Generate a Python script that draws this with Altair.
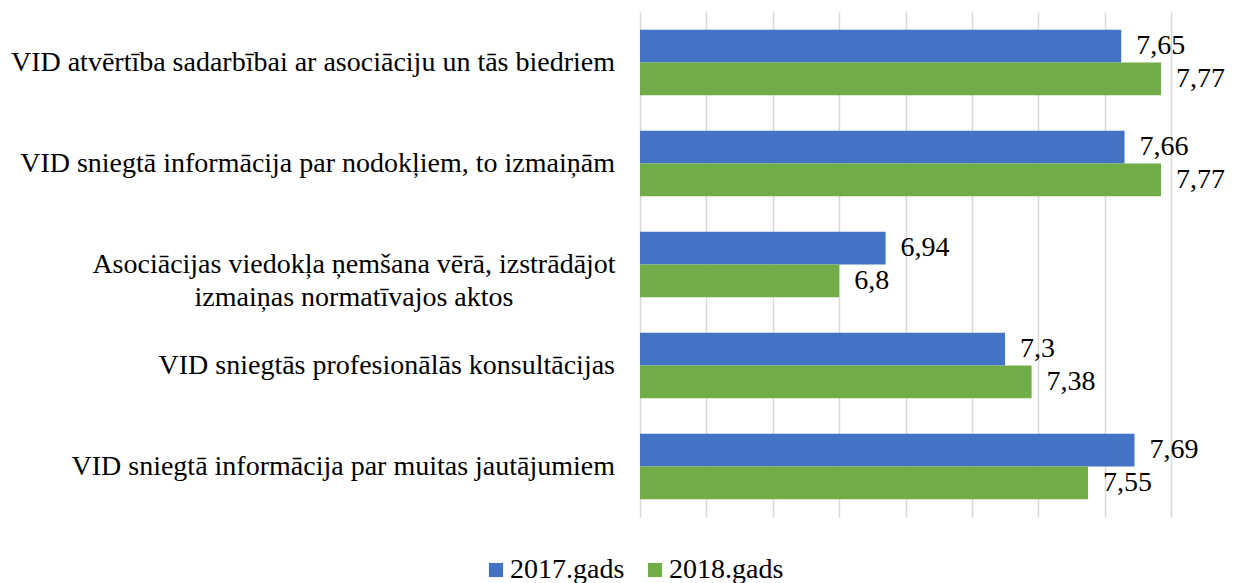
import altair as alt
import pandas as pd

categories = [
    "VID atvērtība sadarbībai ar asociāciju un tās biedriem",
    "VID sniegtā informācija par nodokļiem, to izmaiņām",
    "Asociācijas viedokļa ņemšana vērā, izstrādājot izmaiņas normatīvajos aktos",
    "VID sniegtās profesionālās konsultācijas",
    "VID sniegtā informācija par muitas jautājumiem",
]
label_lines = [
    ["VID atvērtība sadarbībai ar asociāciju un tās biedriem"],
    ["VID sniegtā informācija par nodokļiem, to izmaiņām"],
    ["Asociācijas viedokļa ņemšana vērā, izstrādājot", "izmaiņas normatīvajos aktos"],
    ["VID sniegtās profesionālās konsultācijas"],
    ["VID sniegtā informācija par muitas jautājumiem"],
]
years = ["2017.gads", "2018.gads"]
values_2017 = [7.65, 7.66, 6.94, 7.3, 7.69]
values_2018 = [7.77, 7.77, 6.8, 7.38, 7.55]
colors = ["#4472C4", "#70AD47"]
x_ticks = [6.2, 6.4, 6.6, 6.8, 7.0, 7.2, 7.4, 7.6, 7.8]

rows = []
for c, v17, v18 in zip(categories, values_2017, values_2018):
    rows.append({"cat": c, "year": years[0], "value": v17})
    rows.append({"cat": c, "year": years[1], "value": v18})
df = pd.DataFrame(rows)

lab_df = pd.DataFrame({
    "cat": categories,
    "lines": label_lines,
    "n": [len(l) for l in label_lines],
})

FONT = "Liberation Serif, Times New Roman, DejaVu Serif, serif"
FS = 28

y_enc = alt.Y("cat:N", sort=categories,
              scale=alt.Scale(domain=categories, paddingInner=0.35, paddingOuter=0.175),
              axis=None)

base = alt.Chart(df)

bars = base.mark_bar(clip=True).encode(
    x=alt.X("value:Q",
            scale=alt.Scale(domain=[6.2, 7.8], zero=False, nice=False),
            axis=alt.Axis(values=x_ticks, labels=False, ticks=False, domain=False,
                          grid=True, gridColor="#d9d9d9", gridWidth=1.5, title=None)),
    y=y_enc,
    yOffset=alt.YOffset("year:N", sort=years),
    color=alt.Color("year:N", sort=years,
                    scale=alt.Scale(domain=years, range=colors),
                    legend=alt.Legend(title=None, orient="none", direction="horizontal",
                                      legendX=-158, legendY=544,
                                      symbolType="square", symbolSize=200,
                                      symbolStrokeWidth=0,
                                      labelFont=FONT, labelFontSize=FS,
                                      labelColor="#000000", columnPadding=16,
                                      labelOffset=0)),
)

vals = base.transform_calculate(
    lbl="replace(toString(datum.value), '.', ',')"
).mark_text(align="left", baseline="middle", dx=15, font=FONT, fontSize=FS,
            color="#000000").encode(
    x="value:Q",
    y=y_enc,
    yOffset=alt.YOffset("year:N", sort=years),
    text="lbl:N",
)

single = alt.Chart(lab_df).transform_filter("datum.n == 1").mark_text(
    align="right", baseline="middle", font=FONT, fontSize=FS, color="#000000"
).encode(
    x=alt.value(-25),
    y=y_enc,
    text="lines",
)

multi = alt.Chart(lab_df).transform_filter("datum.n > 1").mark_text(
    align="center", baseline="middle", font=FONT, fontSize=FS, color="#000000",
    lineHeight=33
).encode(
    x=alt.value(-286),
    y=y_enc,
    text="lines",
)

chart = alt.layer(bars, vals, single, multi).properties(
    width=531, height=505,
    background="white",
    autosize=alt.AutoSizeParams(type="none"),
    padding={"left": 632, "top": 4, "right": 55, "bottom": 70},
).configure_view(stroke=None)

chart.save("out.html", embed_options={"renderer": "svg", "actions": False})
